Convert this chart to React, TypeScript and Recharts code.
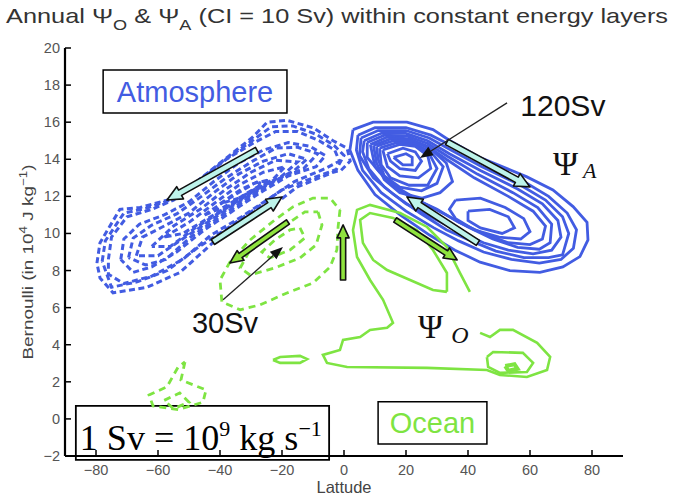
import React from 'react'
import {
  ComposedChart,
  Line,
  XAxis,
  YAxis,
  ReferenceArea,
  ReferenceLine,
  ReferenceDot,
} from 'recharts'

type Pt = [number, number]

const latTicks = [-80, -60, -40, -20, 0, 20, 40, 60, 80]
const bernoulliTicks = [-2, 0, 2, 4, 6, 8, 10, 12, 14, 16, 18, 20]

// Ψ_A > 0 (solid blue), [latitude, Bernoulli]
const psiA1: Pt[] = [[2.9,15.6],[9.4,16.0],[20.3,16.0],[28.7,15.6],[34.2,15.0],[43.9,14.1],[59,13.05],[67.4,12.35],[73.9,11.45],[78.4,10.6],[78.7,9.65],[76.1,8.75],[70.6,8.2],[63.2,7.9],[53.5,8.0],[43.9,8.45],[35.8,9.1],[27.7,9.9],[18.1,11.0],[10,12.1],[4.5,13.4],[1.9,14.5],[2.9,15.6]]
const psiA2: Pt[] = [[4.5,15.3],[10,15.7],[20,15.7],[28,15.3],[35,14.7],[45,13.8],[58,12.8],[66,12.0],[72,11.1],[75,10.2],[74,9.2],[70,8.6],[63,8.4],[54,8.6],[45,9.0],[37,9.6],[29,10.3],[20,11.2],[12,12.2],[6,13.4],[4,14.5],[4.5,15.3]]
const psiA3: Pt[] = [[5.5,15.15],[11,15.55],[20,15.55],[27.5,15.15],[34.5,14.5],[44.5,13.6],[57,12.6],[65,11.8],[70.5,10.9],[72.5,10.0],[70.5,8.85],[66,8.7],[58,8.7],[49,9.05],[41,9.6],[33,10.2],[24.5,11.1],[16,12.1],[9.5,13.0],[5,14.2],[5.5,15.15]]
const psiA4: Pt[] = [[6.5,15.0],[12,15.4],[20,15.4],[27,15.0],[34,14.3],[44,13.4],[56,12.4],[64,11.6],[69,10.7],[70,9.8],[67,9.1],[61,8.9],[53,9.1],[45,9.5],[37,10.1],[29,10.8],[20,11.6],[13,12.5],[8,13.5],[6,14.4],[6.5,15.0]]
const psiA5: Pt[] = [[7.5,14.9],[13,15.3],[20.5,15.25],[27,14.85],[33.5,14.15],[43,13.2],[54.5,12.2],[62.5,11.4],[67,10.5],[66.5,9.5],[63,9.15],[56,9.25],[48,9.7],[40,10.35],[33,11.0],[25,11.7],[17,12.5],[11.5,13.3],[7.5,14.1],[7.5,14.9]]
const psiA6: Pt[] = [[8.5,14.8],[14,15.2],[21,15.1],[27,14.7],[33,14.0],[42,13.0],[53,12.0],[61,11.2],[65,10.4],[64,9.7],[60,9.4],[53,9.5],[45,10.0],[37,10.6],[30,11.3],[21,12.0],[14,12.8],[10,13.6],[8.5,14.8]]
const psiA7: Pt[] = [[9.5,14.75],[15,15.1],[22,15.0],[28,14.55],[33,13.8],[35,12.8],[31,12.2],[25,11.9],[18,12.2],[13,12.9],[10.5,13.8],[9.5,14.75]]
const psiA8: Pt[] = [[10.5,14.7],[16,15.0],[22,14.9],[28,14.4],[32,13.6],[30,12.7],[25,12.3],[18,12.5],[13,13.1],[11,14.0],[10.5,14.7]]
const psiA9: Pt[] = [[11.5,14.6],[17,14.9],[22.5,14.8],[27.5,14.3],[30,13.5],[27,12.6],[21,12.6],[15,13.0],[12,13.7],[11.5,14.6]]
const psiA10: Pt[] = [[12.5,14.5],[18,14.8],[23,14.7],[27,14.2],[28,13.5],[24,13.0],[18,13.1],[14,13.6],[12.5,14.5]]
const psiA11: Pt[] = [[14,14.3],[19,14.6],[23,14.4],[25,13.9],[23,13.4],[18,13.5],[15,13.9],[14,14.3]]
const psiA12: Pt[] = [[16,14.1],[20,14.3],[22,14.1],[22,13.7],[19,13.7],[16,14.1]]
const psiA13: Pt[] = [[36,11.8],[44,11.9],[52,11.4],[58,10.8],[60,10.1],[57,9.7],[50,9.8],[42,10.2],[36,10.8],[34,11.3],[36,11.8]]
const psiA14: Pt[] = [[40,11.2],[47,11.3],[53,10.9],[55,10.3],[51,10.0],[44,10.3],[40,10.7],[40,11.2]]

// Ψ_A < 0 (dashed blue)
const psiAn1: Pt[] = [[-79.7,8.4],[-78.7,9.5],[-72.3,11.3],[-65.8,11.4],[-57.1,11.8],[-49.7,12.5],[-40,13.8],[-29.4,15.2],[-24.8,16.0],[-18.4,16.1],[-10,15.7],[-3.5,15.0],[1,14.6],[2,13.9],[-1,13.4],[-3.5,13.3],[-15.2,12.5],[-20.6,11.8],[-31.3,10.7],[-42.3,9.5],[-52.9,7.9],[-63.5,7.1],[-74.5,6.8],[-78.7,7.6],[-79.7,8.4]]
const psiAn2: Pt[] = [[-78,8.5],[-77,9.6],[-71,11.1],[-64,11.35],[-56,11.8],[-48.5,12.65],[-39,13.9],[-29.2,15.05],[-23.5,15.75],[-16.5,15.8],[-9,15.35],[-3.2,14.75],[0,14.2],[-2.5,13.45],[-10,13.0],[-20,12.35],[-28,11.4],[-37.5,10.3],[-47.5,9.2],[-57,8.0],[-66.5,7.4],[-75,7.1],[-78,8.5]]
const psiAn3: Pt[] = [[-76,8.6],[-75,9.8],[-70,10.9],[-62,11.3],[-55,11.8],[-47,12.8],[-38,14.0],[-29,14.9],[-22,15.5],[-15,15.5],[-8,15.0],[-3,14.5],[-1.5,13.9],[-6,13.5],[-16,12.8],[-24,11.9],[-33,10.9],[-43,9.9],[-52,8.6],[-62,7.7],[-71,7.3],[-76,7.8],[-76,8.6]]
const psiAn4: Pt[] = [[-72,8.6],[-71,9.7],[-66,10.5],[-58,11.0],[-50,11.7],[-42,12.8],[-34,13.8],[-26,14.5],[-18,14.9],[-11,14.7],[-6,14.2],[-9,13.6],[-18,13.1],[-27,12.2],[-36,11.2],[-45,10.2],[-54,9.0],[-62,8.2],[-68,7.9],[-72,8.6]]
const psiAn5: Pt[] = [[-69.5,8.7],[-68,9.75],[-62,10.45],[-54,11.05],[-46,12.0],[-38,13.0],[-30,13.85],[-22,14.6],[-15,14.65],[-8.5,14.3],[-13,13.5],[-22,12.85],[-31,11.9],[-40,10.9],[-49.5,9.8],[-57.5,8.6],[-64,8.3],[-69.5,8.7]]
const psiAn6: Pt[] = [[-67,8.8],[-65,9.8],[-58,10.4],[-50,11.1],[-42,12.2],[-34,13.2],[-26,13.9],[-18,14.3],[-12,14.0],[-16,13.4],[-25,12.6],[-35,11.6],[-44,10.6],[-53,9.6],[-60,8.8],[-67,8.8]]
const psiAn7: Pt[] = [[-62,9.3],[-55,10.4],[-46,11.35],[-38,12.4],[-30,13.3],[-22,13.95],[-15,13.85],[-20,13.1],[-29,12.3],[-38.5,11.3],[-48,10.3],[-56,9.3],[-62,9.3]]
const psiAn8: Pt[] = [[-58,9.8],[-50,10.6],[-42,11.6],[-34,12.6],[-26,13.3],[-19,13.6],[-23,12.9],[-32,12.0],[-42,11.0],[-52,10.0],[-58,9.8]]
const psiAn9: Pt[] = [[-45,11.0],[-37,11.9],[-29,12.7],[-24,12.9],[-30,12.3],[-39,11.4],[-45,11.0]]
const psiAn10: Pt[] = [[-40,11.6],[-33,12.4],[-27,12.85],[-27.5,12.5],[-34,11.9],[-40,11.6]]

// Ψ_O > 0 (solid green)
const psiO1: Pt[] = [[40.6,6.85],[37.4,7.87],[33.2,9.27],[26.8,10.35],[18.1,11.1],[8.4,11.54],[4.2,11.27],[2.9,10.19],[4.2,8.73],[8.4,7.49],[12.6,6.42],[15.8,5.18],[13.9,4.91],[8.4,4.8],[5.2,4.42],[-0.3,4.26],[-1.3,3.72],[-6.8,3.45],[-5.5,3.02],[1,2.8],[26.8,2.75],[46.1,2.64],[50.3,2.37],[59,2.26],[65.5,2.64],[66.5,3.34],[62.3,4.1],[54.5,4.8],[50.3,4.8],[47.1,4.42],[43.9,4.64]]
const psiO2: Pt[] = [[33.2,6.85],[33.2,7.87],[28.7,9.11],[23.5,10.19],[15.8,10.84],[8.4,11.1],[5.2,10.73],[6.1,9.49],[9.4,8.57],[13.9,8.03],[21.3,7.49],[28.7,6.95],[33.2,6.85]]
const psiO3: Pt[] = [[46.1,3.34],[48.1,3.61],[57.7,3.56],[61,3.02],[59,2.53],[50.3,2.48],[46.5,2.8],[46.1,3.34]]
const psiO4: Pt[] = [[52,2.85],[55,2.95],[56,2.7],[53,2.6],[52,2.85]]
const psiO5: Pt[] = [[-22.9,3.18],[-20.6,3.34],[-14.2,3.4],[-11.9,3.23],[-14.2,3.02],[-20.6,3.02],[-22.9,3.18]]

// Ψ_O < 0 (dashed green)
const psiOn1: Pt[] = [[-1.3,11.27],[-1.9,10.35],[-2.3,9.11],[-4.5,8.19],[-10,7.33],[-18.4,6.79],[-27.1,6.15],[-33.5,5.88],[-39.4,6.31],[-40,7.49],[-36.8,8.46],[-30.3,9.65],[-22.3,10.73],[-16.5,11.43],[-10,11.91],[-4.5,11.91],[-1.3,11.27]]
const psiOn2: Pt[] = [[-8.4,11.16],[-7.1,10.46],[-9,9.38],[-14.2,8.68],[-22.3,8.14],[-30.3,7.76],[-33.5,8.14],[-30.3,9.11],[-23.9,9.92],[-17.4,10.62],[-12.6,11.16],[-8.4,11.16]]
const psiOn3: Pt[] = [[-14.2,10.3],[-12.6,9.76],[-17.4,9.11],[-23.9,8.68],[-26.5,9.0],[-22.3,9.65],[-17.4,10.19],[-14.2,10.3]]
const psiOn4: Pt[] = [[-51.3,3.07],[-52.6,2.1],[-44.5,1.56],[-45.5,0.9],[-53.5,0.5],[-61.6,0.7],[-62.9,1.29],[-57.1,1.73],[-53.5,2.8],[-51.3,3.07]]
const psiOn5: Pt[] = [[-58,1.0],[-53,1.4],[-50,0.9],[-55,0.55],[-58,1.0]]

// transport arrows: [tail, head]
const atmArrows: Pt[][] = [
  [[-28.1,14.5],[-57.1,11.8]],
  [[-42.3,9.54],[-20.0,11.97]],
  [[33.2,14.93],[60.0,12.51]],
  [[43.2,9.49],[20.3,11.97]],
]
const ocnArrows: Pt[][] = [
  [[-18.1,10.62],[-36.8,8.41]],
  [[-0.3,7.49],[-0.3,10.46]],
  [[16.5,10.73],[36.5,8.57]],
]
const leaders: Pt[][] = [
  [[52.6,17.04],[24.5,14.07]],
  [[-39.0,6.42],[-19.7,9.27]],
]

const BLUE = '#425ce2'
const GREEN = '#7ee442'
const SANS = '"Liberation Sans", Arial, sans-serif'
const SERIF = '"Liberation Serif", "Times New Roman", serif'

const toXY = (pts: Pt[]) => pts.map(([x, y]) => ({ x, y }))
const fmt = (v: number) => String(v).replace('-', '\u2212')

const solidA = [psiA1, psiA2, psiA3, psiA4, psiA5, psiA6, psiA7, psiA8, psiA9, psiA10, psiA11, psiA12, psiA13, psiA14]
const dashedA = [psiAn1, psiAn2, psiAn3, psiAn4, psiAn5, psiAn6, psiAn7, psiAn8, psiAn9, psiAn10]
const solidO = [psiO1, psiO2, psiO3, psiO4, psiO5]
const dashedO = [psiOn1, psiOn2, psiOn3, psiOn4, psiOn5]

const BottomTick = (p: any) => (
  <g>
    <line x1={p.x} x2={p.x} y1={p.y} y2={p.y - 6} stroke="#000" strokeWidth={1.5} />
    <text x={p.x} y={p.y + 19} textAnchor="middle" fontSize={14.5} fill="#555" fontFamily={SANS}>
      {fmt(p.payload.value)}
    </text>
  </g>
)
const TopTick = (p: any) => (
  <line x1={p.x} x2={p.x} y1={p.y} y2={p.y + 6} stroke="#000" strokeWidth={1.5} />
)
const LeftTick = (p: any) => (
  <g>
    <line x1={p.x} x2={p.x + 6} y1={p.y} y2={p.y} stroke="#000" strokeWidth={1.5} />
    <text x={p.x - 5} y={p.y + 5} textAnchor="end" fontSize={14.5} fill="#555" fontFamily={SANS}>
      {fmt(p.payload.value)}
    </text>
  </g>
)
const RightTick = (p: any) => (
  <line x1={p.x - 6} x2={p.x} y1={p.y} y2={p.y} stroke="#000" strokeWidth={1.5} />
)

function arrowShape(fill: string, w: number, hw: number, hl: number, stroke: string) {
  return (p: any) => {
    const { x1, y1, x2, y2 } = p
    const dx = x2 - x1
    const dy = y2 - y1
    const len = Math.hypot(dx, dy) || 1
    const ux = dx / len
    const uy = dy / len
    const nx = -uy
    const ny = ux
    const bx = x2 - ux * hl
    const by = y2 - uy * hl
    const pts = [
      [x1 + nx * w, y1 + ny * w],
      [bx + nx * w, by + ny * w],
      [bx + nx * hw, by + ny * hw],
      [x2, y2],
      [bx - nx * hw, by - ny * hw],
      [bx - nx * w, by - ny * w],
      [x1 - nx * w, y1 - ny * w],
    ]
    return (
      <polygon
        points={pts.map((q) => q.join(',')).join(' ')}
        fill={fill}
        stroke={stroke}
        strokeWidth={1.6}
        strokeLinejoin="round"
      />
    )
  }
}

const leaderShape = (p: any) => {
  const { x1, y1, x2, y2 } = p
  const dx = x2 - x1
  const dy = y2 - y1
  const len = Math.hypot(dx, dy) || 1
  const ux = dx / len
  const uy = dy / len
  const hl = 13
  const hw = 5
  const bx = x2 - ux * hl
  const by = y2 - uy * hl
  return (
    <g>
      <line x1={x1} y1={y1} x2={bx} y2={by} stroke="#222" strokeWidth={1.3} />
      <polygon
        points={`${x2},${y2} ${bx - uy * hw},${by + ux * hw} ${bx + uy * hw},${by - ux * hw}`}
        fill="#111"
      />
    </g>
  )
}

export default function App() {
  return (
    <div style={{ position: 'absolute', left: 0, top: 0, width: 674, height: 499, background: '#fff' }}>
      <ComposedChart width={674} height={499} margin={{ top: 48, right: 51, bottom: 0, left: 0 }}>
        <XAxis
          xAxisId={0}
          dataKey="x"
          type="number"
          domain={[-90, 90]}
          ticks={latTicks}
          allowDataOverflow
          height={43}
          tickSize={0}
          tickMargin={0}
          tickLine={false}
          tick={BottomTick}
          axisLine={{ stroke: '#000', strokeWidth: 2.2 }}
        />
        <XAxis
          xAxisId="top"
          orientation="top"
          dataKey="x"
          type="number"
          domain={[-90, 90]}
          ticks={latTicks}
          height={0}
          tickSize={0}
          tickMargin={0}
          tickLine={false}
          tick={TopTick}
          axisLine={{ stroke: '#000', strokeWidth: 2.2 }}
        />
        <YAxis
          yAxisId={0}
          type="number"
          domain={[-2, 20]}
          ticks={bernoulliTicks}
          allowDataOverflow
          width={65}
          tickSize={0}
          tickMargin={0}
          tickLine={false}
          tick={LeftTick}
          axisLine={{ stroke: '#000', strokeWidth: 2.2 }}
        />
        <YAxis
          yAxisId="right"
          orientation="right"
          type="number"
          domain={[-2, 20]}
          ticks={bernoulliTicks}
          width={0}
          tickSize={0}
          tickMargin={0}
          tickLine={false}
          tick={RightTick}
          axisLine={{ stroke: '#000', strokeWidth: 2.2 }}
        />

        {dashedA.map((c, i) => (
          <Line key={`da${i}`} data={toXY(c)} dataKey="y" type="linear" stroke={BLUE} strokeWidth={3}
            strokeDasharray="6 3.5" dot={false} activeDot={false} isAnimationActive={false} />
        ))}
        {solidA.map((c, i) => (
          <Line key={`sa${i}`} data={toXY(c)} dataKey="y" type="linear" stroke={BLUE} strokeWidth={2.8}
            dot={false} activeDot={false} isAnimationActive={false} />
        ))}
        {dashedO.map((c, i) => (
          <Line key={`do${i}`} data={toXY(c)} dataKey="y" type="linear" stroke={GREEN} strokeWidth={2.8}
            strokeDasharray="7 5" dot={false} activeDot={false} isAnimationActive={false} />
        ))}
        {solidO.map((c, i) => (
          <Line key={`so${i}`} data={toXY(c)} dataKey="y" type="linear" stroke={GREEN} strokeWidth={i === 3 ? 4 : 2.6}
            dot={false} activeDot={false} isAnimationActive={false} />
        ))}

        {atmArrows.map((a, i) => (
          <ReferenceLine key={`aa${i}`} segment={[{ x: a[0][0], y: a[0][1] }, { x: a[1][0], y: a[1][1] }]}
            shape={arrowShape('#bdf3ea', 3, 7, 15, '#111')} />
        ))}
        {ocnArrows.map((a, i) => (
          <ReferenceLine key={`oa${i}`} segment={[{ x: a[0][0], y: a[0][1] }, { x: a[1][0], y: a[1][1] }]}
            shape={arrowShape('#8fe23e', 2.6, 6, 13, '#111')} />
        ))}
        {leaders.map((a, i) => (
          <ReferenceLine key={`ld${i}`} segment={[{ x: a[0][0], y: a[0][1] }, { x: a[1][0], y: a[1][1] }]}
            shape={leaderShape} />
        ))}

        <ReferenceArea x1={-77.7} x2={-18.4} y1={16.5} y2={18.81} fill="#fff" fillOpacity={1}
          stroke="#000" strokeWidth={1.5}
          label={{ value: 'Atmosphere', position: 'center', fill: BLUE, fontSize: 29, fontFamily: SANS }} />
        <ReferenceArea x1={11.0} x2={46.1} y1={-1.35} y2={0.92} fill="#fff" fillOpacity={1}
          stroke="#000" strokeWidth={1.5}
          label={{ value: 'Ocean', position: 'center', fill: GREEN, fontSize: 29, fontFamily: SANS }} />
        <ReferenceArea x1={-86.5} x2={-4.8} y1={-2.21} y2={0.7} fill="#fff" fillOpacity={1}
          stroke="#000" strokeWidth={1.8} ifOverflow="visible"
          label={(p: any) => {
            const vb = p.viewBox
            return (
              <text x={vb.x + 4} y={vb.y + 44} fontSize={36} fontFamily={SERIF} fill="#000"
                textLength={242} lengthAdjust="spacingAndGlyphs">
                1 Sv = 10<tspan dy={-14} fontSize={22}>9</tspan>
                <tspan dy={14}> kg s</tspan>
                <tspan dy={-14} fontSize={22}>{'\u22121'}</tspan>
              </text>
            )
          }} />

        <ReferenceDot x={70.6} y={16.93} r={0} fill="none" stroke="none"
          label={(p: any) => (
            <text x={p.viewBox.x} y={p.viewBox.y + 11} textAnchor="middle" fontSize={30} fontFamily={SANS} fill="#111">120Sv</text>
          )} />
        <ReferenceDot x={-38.4} y={5.23} r={0} fill="none" stroke="none"
          label={(p: any) => (
            <text x={p.viewBox.x} y={p.viewBox.y + 11} textAnchor="middle" fontSize={29} fontFamily={SANS} fill="#111">30Sv</text>
          )} />
        <ReferenceDot x={67.4} y={13.15} r={0} fill="none" stroke="none"
          label={(p: any) => (
            <text x={p.viewBox.x} y={p.viewBox.y} fontSize={34} fontFamily={SERIF} fill="#111">
              Ψ<tspan dx={5} dy={3} fontSize={22} fontStyle="italic">A</tspan>
            </text>
          )} />
        <ReferenceDot x={23.9} y={4.37} r={0} fill="none" stroke="none"
          label={(p: any) => (
            <text x={p.viewBox.x} y={p.viewBox.y} fontSize={34} fontFamily={SERIF} fill="#111">
              Ψ<tspan dx={8} dy={5} fontSize={24} fontStyle="italic">O</tspan>
            </text>
          )} />
      </ComposedChart>

      <svg width={674} height={499} style={{ position: 'absolute', left: 0, top: 0, pointerEvents: 'none' }}>
        <text x={6} y={23} fontSize={21} fill="#333" fontFamily={SANS} textLength={662} lengthAdjust="spacingAndGlyphs">
          Annual Ψ<tspan dy={7} fontSize={15}>O</tspan>
          <tspan dy={-7}> &amp; Ψ</tspan>
          <tspan dy={7} fontSize={15}>A</tspan>
          <tspan dy={-7}> (CI = 10 Sv) within constant energy layers</tspan>
        </text>
        <text x={344} y={493} textAnchor="middle" fontSize={16.5} fill="#444" fontFamily={SANS}>Lattude</text>
        <text x={33} y={262} transform="rotate(-90 33 262)" textAnchor="middle" fontSize={15.5} fill="#444"
          fontFamily={SANS} textLength={195} lengthAdjust="spacingAndGlyphs">
          Bernoulli (in 10<tspan dy={-6} fontSize={11}>4</tspan>
          <tspan dy={6}> J kg</tspan>
          <tspan dy={-6} fontSize={11}>{'\u22121'}</tspan>
          <tspan dy={6}>)</tspan>
        </text>
      </svg>
    </div>
  )
}
